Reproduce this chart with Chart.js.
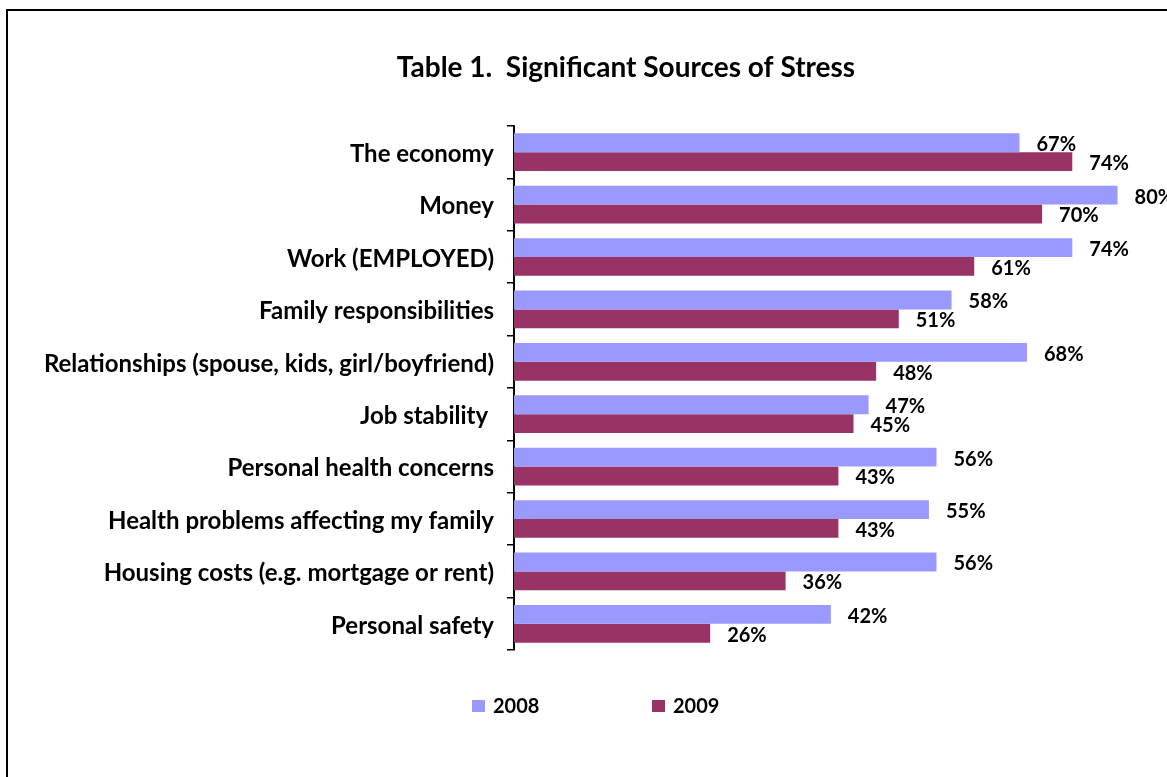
<!DOCTYPE html>
<html>
<head>
<meta charset="utf-8">
<title>Significant Sources of Stress</title>
<script src="https://cdn.jsdelivr.net/npm/chart.js@4.4.1/dist/chart.umd.min.js"></script>
<style>
  html, body { margin: 0; padding: 0; background: #fff; overflow: hidden; }
  body { width: 1167px; height: 777px; position: relative; }
  #frame { position: absolute; left: 6px; top: 9px; width: 1400px; height: 1000px; border: 2px solid #000; }
  #chart { position: absolute; left: 0; top: 0; }
</style>
</head>
<body>
<div id="frame"></div>
<canvas id="chart" width="1193" height="777"></canvas>
<script>
const categories = [
  "The economy",
  "Money",
  "Work (EMPLOYED)",
  "Family responsibilities",
  "Relationships (spouse, kids, girl/boyfriend)",
  "Job stability ",
  "Personal health concerns",
  "Health problems affecting my family",
  "Housing costs (e.g. mortgage or rent)",
  "Personal safety"
];
const values2008 = [67, 80, 74, 58, 68, 47, 56, 55, 56, 42];
const values2009 = [74, 70, 61, 51, 48, 45, 43, 43, 36, 26];
const seriesNames = ["2008", "2009"];
const titleText = "Table 1.  Significant Sources of Stress";

const FONT = "Lato, 'Open Sans', sans-serif";
const COLORS = ["#9999FF", "#993366"];

// percentage labels just past the end of each bar
const valueLabels = {
  id: "valueLabels",
  afterDatasetsDraw(chart) {
    const ctx = chart.ctx;
    ctx.save();
    ctx.font = "bold 20px " + FONT;
    ctx.fillStyle = "#000";
    ctx.textAlign = "left";
    ctx.textBaseline = "middle";
    chart.data.datasets.forEach((ds, i) => {
      chart.getDatasetMeta(i).data.forEach((bar, j) => {
        ctx.fillText(ds.data[j] + "%", bar.x + 17, bar.y + 2);
      });
    });
    ctx.restore();
  }
};

// title on top, legend row under the plot
const titleAndLegend = {
  id: "titleAndLegend",
  afterDraw(chart) {
    const ctx = chart.ctx;
    ctx.save();
    ctx.fillStyle = "#000";
    ctx.font = "bold 28px " + FONT;
    ctx.textAlign = "center";
    ctx.textBaseline = "alphabetic";
    ctx.fillText(titleText, 626, 77);

    ctx.font = "bold 20px " + FONT;
    ctx.textAlign = "left";
    ctx.textBaseline = "middle";
    chart.data.datasets.forEach((ds, i) => {
      const x = 472 + i * 180;
      ctx.fillStyle = ds.backgroundColor;
      ctx.fillRect(x, 700, 13, 12);
      ctx.fillStyle = "#000";
      ctx.fillText(ds.label, x + 21, 707);
    });
    ctx.restore();
  }
};

new Chart(document.getElementById("chart"), {
  type: "bar",
  data: {
    labels: categories,
    datasets: [
      { label: seriesNames[0], data: values2008, backgroundColor: COLORS[0] },
      { label: seriesNames[1], data: values2009, backgroundColor: COLORS[1] }
    ]
  },
  options: {
    indexAxis: "y",
    responsive: false,
    animation: false,
    categoryPercentage: 0.72,
    barPercentage: 1.0,
    layout: { padding: { top: 126, bottom: 127, left: 0, right: 0 } },
    plugins: {
      legend: { display: false },
      title: { display: false },
      tooltip: { enabled: false }
    },
    scales: {
      x: { display: false, min: 0, max: 90 },
      y: {
        afterFit(scale) { scale.width = 514; },
        grid: { drawOnChartArea: false, drawTicks: true, tickLength: 7, color: "#000", lineWidth: 1.5 },
        border: { display: true, color: "#000", width: 2 },
        ticks: {
          color: "#000",
          autoSkip: false,
          padding: 13,
          labelOffset: 2,
          font: { family: FONT, size: 24, weight: "bold" }
        }
      }
    }
  },
  plugins: [valueLabels, titleAndLegend]
});
</script>
</body>
</html>
